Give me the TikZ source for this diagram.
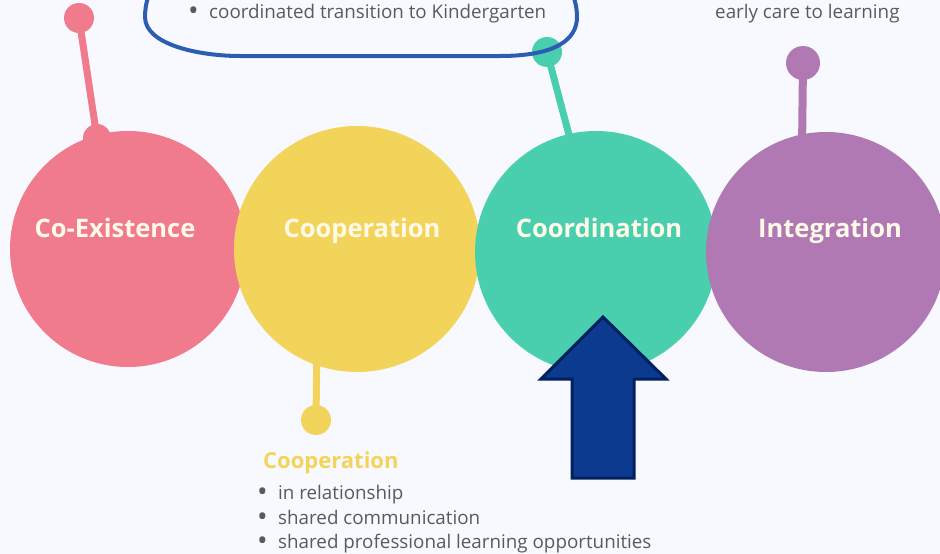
\documentclass[tikz,border=0pt]{standalone}
\usepackage{fontspec}
\setmainfont{Open Sans}
\definecolor{bgc}{HTML}{F8F9FE}
\definecolor{cpink}{HTML}{EF7B8C}
\definecolor{cyellow}{HTML}{F3D45B}
\definecolor{cgreen}{HTML}{4ACFAE}
\definecolor{cpurple}{HTML}{B079B3}
\definecolor{tgray}{HTML}{565B62}
\definecolor{tcream}{HTML}{FFF9E8}
\definecolor{bline}{HTML}{2B5DB3}
\definecolor{afill}{HTML}{0B3A8E}
\definecolor{adraw}{HTML}{021F5E}
\newcommand{\bul}{\makebox[21pt][l]{\smash{\raisebox{-0.12em}{\scalebox{1.5}{•}}}}}
\begin{document}
\begin{tikzpicture}[x=1pt,y=-1pt,
  bubble/.style={circle, inner sep=0pt, draw=none},
  pinball/.style={circle, inner sep=0pt, draw=none},
  pinline/.style={line width=7pt},
  headtext/.style={text=tcream, font=\fontsize{25.5}{29}\selectfont\bfseries, inner sep=0pt},
  bodytext/.style={text=tgray, font=\fontsize{18.8}{22}\selectfont, inner sep=0pt}]
\useasboundingbox (0,0) rectangle (940,554);
\fill[bgc] (0,0) rectangle (940,554);
\clip (0,0) rectangle (940,554);
% pins
\node[pinball, fill=cpink, minimum size=30pt] (pinA) at (79,18) {};
\node[pinball, fill=cpink, minimum size=28pt] (pinAfoot) at (97,138) {};
\draw[pinline, cpink] (pinA.center) -- (pinAfoot.center);
\node[pinball, fill=cyellow, minimum size=30pt] (pinB) at (316,420) {};
\coordinate (pinBfoot) at (317,340);
\draw[pinline, cyellow] (pinB.center) -- (pinBfoot);
\node[pinball, fill=cgreen, minimum size=30pt] (pinC) at (547,52) {};
\coordinate (pinCfoot) at (573,150);
\draw[pinline, cgreen] (pinC.center) -- (pinCfoot);
\node[pinball, fill=cpurple, minimum size=34pt] (pinD) at (803,63) {};
\coordinate (pinDfoot) at (802,150);
\draw[pinline, line width=8pt, cpurple] (pinD.center) -- (pinDfoot);
% circles
\node[bubble, fill=cpink, minimum size=236pt] (coex) at (128,249) {};
\node[bubble, fill=cyellow, minimum size=246pt] (coop) at (357,249) {};
\node[bubble, fill=cgreen, minimum size=242pt] (coord) at (596,252) {};
\node[bubble, fill=cpurple, minimum size=240pt] (integ) at (826,252) {};
\node[headtext, anchor=base] (tcoex) at (115,237) {Co-Existence};
\node[headtext, anchor=base] (tcoop) at (362,237) {Cooperation};
\node[headtext, anchor=base] (tcoord) at (599,237) {Coordination};
\node[headtext, anchor=base] (tinteg) at (830,237) {Integration};
% arrow
\draw[fill=afill, draw=adraw, line width=3pt, line join=miter]
  (603,317) -- (666,379) -- (634,379) -- (634,478) -- (572,478) -- (572,379) -- (541,379) -- cycle;
% blue outline
\draw[bline, line width=4pt]
  (165,-30) .. controls (148,-12) and (145,5) .. (145,17)
  .. controls (145,45) and (200,56) .. (240,56) -- (500,56)
  .. controls (555,56) and (577,40) .. (577,17)
  .. controls (577,0) and (570,-15) .. (558,-30);
% texts
\node[bodytext, anchor=base west] (topline) at (188,18) {\bul coordinated transition to Kindergarten};
\node[bodytext, anchor=base west] (earlyline) at (715,19) {early care to learning};
\node[anchor=base west, inner sep=0pt, text=cyellow, font=\fontsize{22}{26}\selectfont\bfseries] (coophead) at (263,468) {Cooperation};
\node[bodytext, anchor=base west] (bA) at (257,499) {\bul in relationship};
\node[bodytext, anchor=base west] (bB) at (257,524) {\bul shared communication};
\node[bodytext, anchor=base west] (bC) at (257,548) {\bul shared professional learning opportunities};
\end{tikzpicture}
\end{document}
